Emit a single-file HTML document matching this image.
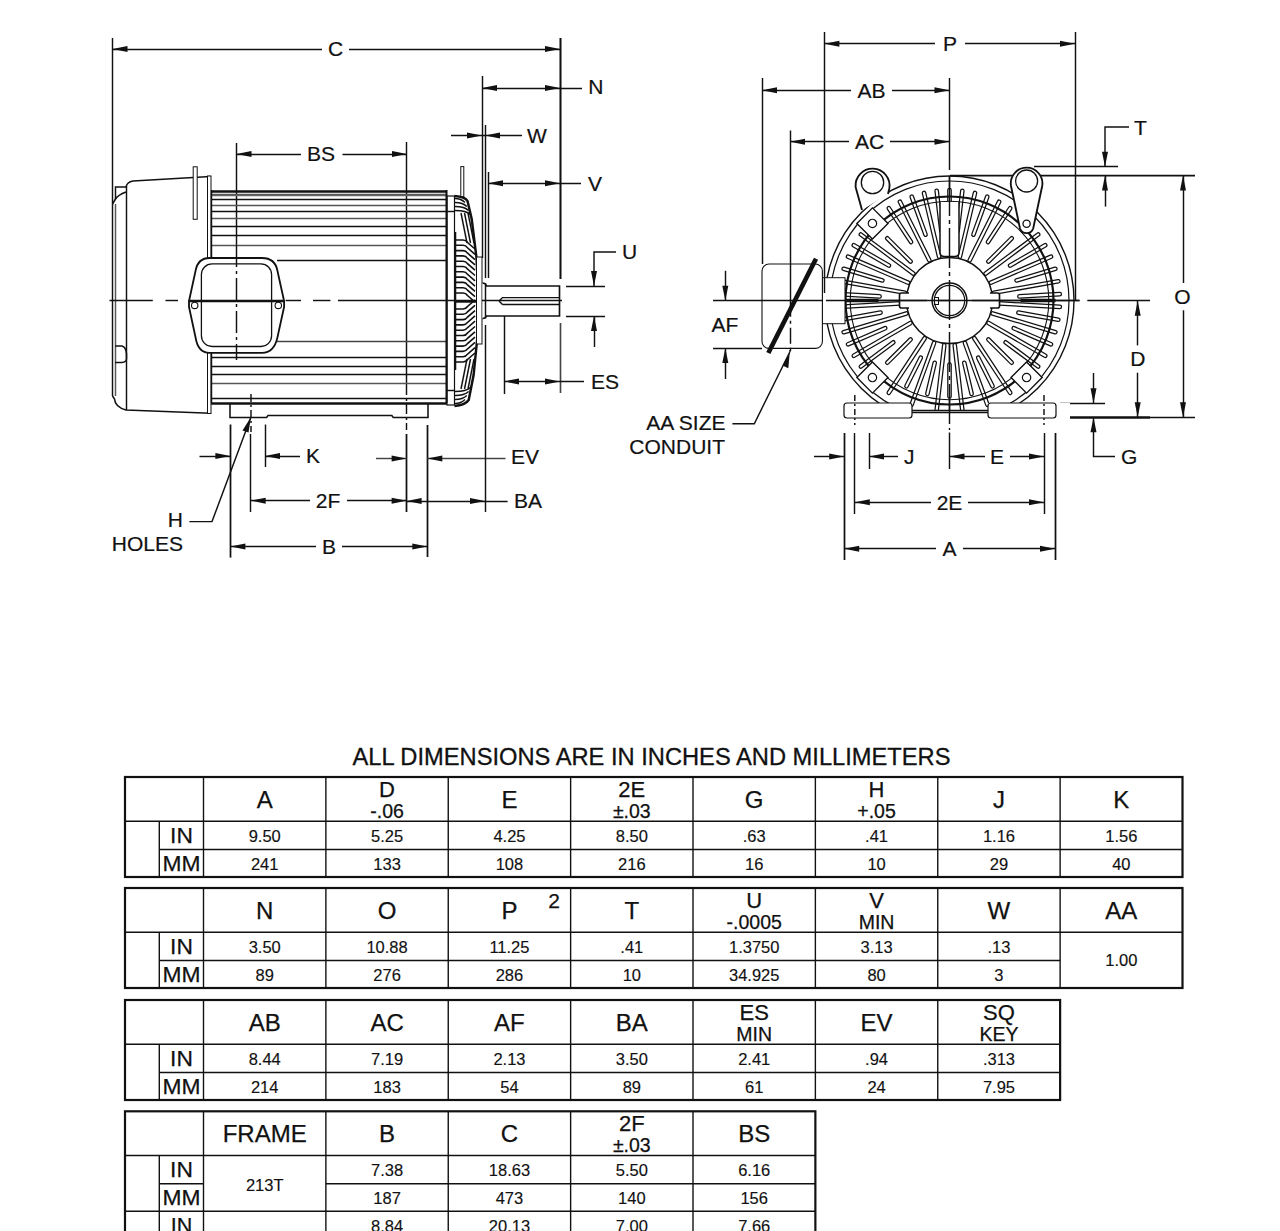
<!DOCTYPE html>
<html><head><meta charset="utf-8"><style>
html,body{margin:0;padding:0;background:#fff;}
svg{position:absolute;left:0;top:0;}
text{font-family:"Liberation Sans",sans-serif;}
</style></head><body>
<svg width="1280" height="1231" viewBox="0 0 1280 1231">
<rect width="1280" height="1231" fill="#fff"/>
<line x1="112.5" y1="38" x2="112.5" y2="204" stroke="#111" stroke-width="1.45" />
<line x1="560.5" y1="38" x2="560.5" y2="279" stroke="#111" stroke-width="2.05" />
<line x1="560.5" y1="323" x2="560.5" y2="393" stroke="#444" stroke-width="1.65" />
<line x1="112.5" y1="49.5" x2="322" y2="49.5" stroke="#111" stroke-width="1.45" />
<line x1="349" y1="49.5" x2="560" y2="49.5" stroke="#111" stroke-width="1.45" />
<polygon points="112.50,49.00 127.50,46.00 127.50,52.00" fill="#111"/>
<polygon points="560.00,49.00 545.00,46.00 545.00,52.00" fill="#111"/>
<text x="335.6" y="55.80" font-size="21.00" text-anchor="middle" fill="#111" stroke="#111" stroke-width="0.2" >C</text>
<line x1="236.5" y1="143" x2="236.5" y2="245" stroke="#111" stroke-width="1.45" />
<line x1="406.5" y1="142" x2="406.5" y2="385" stroke="#111" stroke-width="1.45" />
<line x1="236.5" y1="154.5" x2="301" y2="154.5" stroke="#111" stroke-width="1.45" />
<line x1="342.5" y1="154.5" x2="407" y2="154.5" stroke="#111" stroke-width="1.45" />
<polygon points="236.50,154.00 251.50,151.00 251.50,157.00" fill="#111"/>
<polygon points="407.00,154.00 392.00,151.00 392.00,157.00" fill="#111"/>
<text x="321" y="161.30" font-size="21.00" text-anchor="middle" fill="#111" stroke="#111" stroke-width="0.2" >BS</text>
<line x1="482.5" y1="76" x2="482.5" y2="258" stroke="#111" stroke-width="1.45" />
<line x1="482" y1="88.5" x2="582" y2="88.5" stroke="#111" stroke-width="1.45" />
<polygon points="482.00,88.00 497.00,85.00 497.00,91.00" fill="#111"/>
<polygon points="560.00,88.00 545.00,85.00 545.00,91.00" fill="#111"/>
<text x="588.3" y="93.90" font-size="21.00" text-anchor="start" fill="#111" stroke="#111" stroke-width="0.2" >N</text>
<line x1="485.5" y1="125" x2="485.5" y2="278" stroke="#111" stroke-width="1.45" />
<line x1="451" y1="135.5" x2="522" y2="135.5" stroke="#111" stroke-width="1.45" />
<polygon points="482.00,135.60 467.00,132.60 467.00,138.60" fill="#111"/>
<polygon points="485.00,135.60 500.00,132.60 500.00,138.60" fill="#111"/>
<text x="527" y="142.90" font-size="21.00" text-anchor="start" fill="#111" stroke="#111" stroke-width="0.2" >W</text>
<line x1="488.5" y1="172" x2="488.5" y2="278" stroke="#111" stroke-width="1.45" />
<line x1="488" y1="183.5" x2="581" y2="183.5" stroke="#111" stroke-width="1.45" />
<polygon points="488.00,183.30 503.00,180.30 503.00,186.30" fill="#111"/>
<polygon points="560.00,183.30 545.00,180.30 545.00,186.30" fill="#111"/>
<text x="588" y="190.60" font-size="21.00" text-anchor="start" fill="#111" stroke="#111" stroke-width="0.2" >V</text>
<path d="M616,252 H594 V286" stroke="#111" stroke-width="1.45" fill="none" />
<polygon points="594.00,286.00 591.00,271.00 597.00,271.00" fill="#111"/>
<line x1="566" y1="286.5" x2="605" y2="286.5" stroke="#111" stroke-width="1.45" />
<line x1="566" y1="316.5" x2="605" y2="316.5" stroke="#111" stroke-width="1.45" />
<line x1="594.5" y1="316" x2="594.5" y2="347" stroke="#111" stroke-width="1.45" />
<polygon points="594.00,316.00 591.00,331.00 597.00,331.00" fill="#111"/>
<text x="622" y="259.30" font-size="21.00" text-anchor="start" fill="#111" stroke="#111" stroke-width="0.2" >U</text>
<line x1="504.5" y1="313" x2="504.5" y2="394" stroke="#111" stroke-width="1.45" />
<line x1="504" y1="381.5" x2="584" y2="381.5" stroke="#111" stroke-width="1.45" />
<polygon points="504.00,381.40 519.00,378.40 519.00,384.40" fill="#111"/>
<polygon points="560.00,381.40 545.00,378.40 545.00,384.40" fill="#111"/>
<text x="591" y="388.70" font-size="21.00" text-anchor="start" fill="#111" stroke="#111" stroke-width="0.2" >ES</text>
<line x1="406.5" y1="434" x2="406.5" y2="512" stroke="#111" stroke-width="1.75" />
<line x1="427.5" y1="425" x2="427.5" y2="557" stroke="#111" stroke-width="1.75" />
<line x1="376" y1="458.5" x2="406.6" y2="458.5" stroke="#444" stroke-width="1.45" />
<polygon points="406.60,458.60 391.60,455.60 391.60,461.60" fill="#111"/>
<line x1="427.3" y1="458.5" x2="505.5" y2="458.5" stroke="#444" stroke-width="1.45" />
<polygon points="427.30,458.60 442.30,455.60 442.30,461.60" fill="#111"/>
<text x="511" y="463.50" font-size="21.00" text-anchor="start" fill="#111" stroke="#111" stroke-width="0.2" >EV</text>
<line x1="485.5" y1="325" x2="485.5" y2="512" stroke="#111" stroke-width="1.45" />
<line x1="406.6" y1="501.5" x2="507.6" y2="501.5" stroke="#111" stroke-width="1.45" />
<polygon points="406.60,501.00 421.60,498.00 421.60,504.00" fill="#111"/>
<polygon points="485.00,501.00 470.00,498.00 470.00,504.00" fill="#111"/>
<text x="514" y="508.30" font-size="21.00" text-anchor="start" fill="#111" stroke="#111" stroke-width="0.2" >BA</text>
<line x1="230.5" y1="424.5" x2="230.5" y2="557.6" stroke="#111" stroke-width="1.75" />
<line x1="265.5" y1="424.5" x2="265.5" y2="467" stroke="#111" stroke-width="1.45" />
<line x1="199.5" y1="456.5" x2="230.4" y2="456.5" stroke="#111" stroke-width="1.45" />
<polygon points="230.40,456.00 215.40,453.00 215.40,459.00" fill="#111"/>
<line x1="265" y1="456.5" x2="300" y2="456.5" stroke="#111" stroke-width="1.45" />
<polygon points="265.00,456.00 280.00,453.00 280.00,459.00" fill="#111"/>
<text x="306" y="463.30" font-size="21.00" text-anchor="start" fill="#111" stroke="#111" stroke-width="0.2" >K</text>
<line x1="250.5" y1="434" x2="250.5" y2="512" stroke="#111" stroke-width="1.45" />
<line x1="250.7" y1="500.5" x2="310" y2="500.5" stroke="#111" stroke-width="1.45" />
<line x1="347" y1="500.5" x2="406.6" y2="500.5" stroke="#111" stroke-width="1.45" />
<polygon points="250.70,500.70 265.70,497.70 265.70,503.70" fill="#111"/>
<polygon points="406.60,500.70 391.60,497.70 391.60,503.70" fill="#111"/>
<text x="328" y="508.00" font-size="21.00" text-anchor="middle" fill="#111" stroke="#111" stroke-width="0.2" >2F</text>
<line x1="230.4" y1="546.5" x2="316" y2="546.5" stroke="#111" stroke-width="1.45" />
<line x1="342" y1="546.5" x2="427.3" y2="546.5" stroke="#111" stroke-width="1.45" />
<polygon points="230.40,546.40 245.40,543.40 245.40,549.40" fill="#111"/>
<polygon points="427.30,546.40 412.30,543.40 412.30,549.40" fill="#111"/>
<text x="329" y="553.70" font-size="21.00" text-anchor="middle" fill="#111" stroke="#111" stroke-width="0.2" >B</text>
<path d="M189.4,521.6 H212 L251,417" stroke="#111" stroke-width="1.45" fill="none" />
<polygon points="251,417 242.5,430.5 248.5,432.5" fill="#111"/>
<text x="183" y="527.30" font-size="21.00" text-anchor="end" fill="#111" stroke="#111" stroke-width="0.2" >H</text>
<text x="183" y="550.80" font-size="21.00" text-anchor="end" fill="#111" stroke="#111" stroke-width="0.2" >HOLES</text>
<line x1="112.5" y1="204" x2="112.5" y2="396" stroke="#111" stroke-width="1.45" />
<line x1="115.5" y1="204" x2="115.5" y2="396" stroke="#555" stroke-width="1.45" />
<path d="M112.5,396 L114.5,399 Q115,407 126,410 L210.5,413.2" stroke="#111" stroke-width="1.55" fill="none" />
<path d="M112.5,204 L115.5,199 Q118,195 126,192" stroke="#111" stroke-width="1.55" fill="none" />
<path d="M115.5,199 V187 H126" stroke="#111" stroke-width="1.45" fill="none" />
<path d="M126,187 Q127,182 133,181 L210.5,176.5" stroke="#111" stroke-width="1.55" fill="none" />
<line x1="126.5" y1="186" x2="126.5" y2="410" stroke="#111" stroke-width="1.45" />
<path d="M115,346 H122 Q126,347 126.5,354 V359 Q126,362.4 122,362.4 H115" stroke="#111" stroke-width="1.55" fill="none" />
<rect x="193.2" y="166.8" width="4" height="52.5" rx="0" stroke="#111" stroke-width="1.0" fill="#fff"/>
<rect x="207.5" y="176" width="3.5" height="237.5" rx="0" stroke="#111" stroke-width="1.0" fill="#fff"/>
<line x1="211" y1="191.5" x2="447" y2="191.5" stroke="#111" stroke-width="2.45" />
<line x1="211" y1="194.5" x2="447" y2="194.5" stroke="#555" stroke-width="1.45" />
<line x1="211" y1="195.5" x2="447" y2="195.5" stroke="#666" stroke-width="1.45" />
<line x1="211" y1="199.5" x2="447" y2="199.5" stroke="#111" stroke-width="1.45" />
<line x1="211" y1="205.5" x2="447" y2="205.5" stroke="#555" stroke-width="1.45" />
<line x1="211" y1="211.5" x2="447" y2="211.5" stroke="#111" stroke-width="1.45" />
<line x1="211" y1="218.5" x2="447" y2="218.5" stroke="#555" stroke-width="1.45" />
<line x1="211" y1="226.5" x2="447" y2="226.5" stroke="#111" stroke-width="1.45" />
<line x1="211" y1="235.5" x2="447" y2="235.5" stroke="#111" stroke-width="1.45" />
<line x1="211" y1="245.5" x2="447" y2="245.5" stroke="#555" stroke-width="1.45" />
<line x1="277" y1="260.5" x2="447" y2="260.5" stroke="#111" stroke-width="1.45" />
<line x1="277" y1="341.5" x2="447" y2="341.5" stroke="#444" stroke-width="1.45" />
<line x1="211" y1="357.5" x2="447" y2="357.5" stroke="#111" stroke-width="1.45" />
<line x1="211" y1="366.5" x2="447" y2="366.5" stroke="#111" stroke-width="1.45" />
<line x1="211" y1="374.5" x2="447" y2="374.5" stroke="#111" stroke-width="1.45" />
<line x1="211" y1="383.5" x2="447" y2="383.5" stroke="#555" stroke-width="1.45" />
<line x1="211" y1="398.5" x2="447" y2="398.5" stroke="#111" stroke-width="1.45" />
<line x1="211" y1="403.5" x2="447" y2="403.5" stroke="#111" stroke-width="2.45" />
<line x1="211.5" y1="190" x2="211.5" y2="403" stroke="#111" stroke-width="1.45" />
<path d="M209.5,258 H262 Q275,258 277.4,270.6 L284.1,301 V307 L277.4,337.6 Q274,352.8 262,352.8 H209.5 Q198,352.8 195.6,337.6 L189,307 V301 L195.6,270.6 Q198,258 209.5,258 Z" stroke="#111" stroke-width="1.85" fill="#fff" />
<rect x="201.4" y="263.9" width="70.2" height="82.6" rx="10.7" stroke="#111" stroke-width="1.3" fill="none"/>
<circle cx="194.7" cy="305.4" r="3.2" stroke="#111" stroke-width="1.1" fill="none"/>
<circle cx="278.3" cy="305.4" r="3.2" stroke="#111" stroke-width="1.1" fill="none"/>
<line x1="189" y1="301.5" x2="284" y2="301.5" stroke="#111" stroke-width="1.65" />
<path d="M236.5,245 V360" stroke="#111" stroke-width="1.45" fill="none" stroke-dasharray="22,4,3,4"/>
<line x1="109.5" y1="300.5" x2="152.8" y2="300.5" stroke="#111" stroke-width="1.45" />
<line x1="165.5" y1="300.5" x2="178" y2="300.5" stroke="#111" stroke-width="1.45" />
<line x1="188.7" y1="300.5" x2="283.7" y2="300.5" stroke="#111" stroke-width="1.45" />
<line x1="285.6" y1="300.5" x2="301" y2="300.5" stroke="#111" stroke-width="1.45" />
<line x1="313" y1="300.5" x2="330.4" y2="300.5" stroke="#111" stroke-width="1.45" />
<line x1="338" y1="300.5" x2="560" y2="300.5" stroke="#111" stroke-width="1.45" />
<path d="M230,403 V417.5 H266.6 L268,415.5 H391.8 L393.3,417.5 H428 V403" stroke="#111" stroke-width="1.55" fill="none" />
<path d="M251,394 V432" stroke="#111" stroke-width="1.45" fill="none" stroke-dasharray="8,3,2,3"/>
<path d="M406.5,385 V430" stroke="#111" stroke-width="1.45" fill="none" stroke-dasharray="10,3,3,3"/>
<rect x="447" y="196" width="7.5" height="209" rx="0" stroke="#111" stroke-width="1.2" fill="none"/>
<line x1="446.5" y1="190" x2="446.5" y2="403" stroke="#111" stroke-width="2.05" />
<line x1="447" y1="211.5" x2="454.5" y2="211.5" stroke="#111" stroke-width="1.45" />
<line x1="447" y1="390.5" x2="454.5" y2="390.5" stroke="#111" stroke-width="1.45" />
<line x1="455.5" y1="232" x2="455.5" y2="370" stroke="#111" stroke-width="1.55" />
<path d="M455.5,240.0 H463 Q466,240.0 467.5,242.5 L475,249.0" stroke="#111" stroke-width="1.60" fill="none" />
<path d="M455.5,245.3 H463 Q466,245.3 467.5,247.8 L475,254.3" stroke="#111" stroke-width="1.60" fill="none" />
<path d="M455.5,250.6 H463 Q466,250.6 467.5,253.1 L475,259.6" stroke="#111" stroke-width="1.60" fill="none" />
<path d="M455.5,255.9 H463 Q466,255.9 467.5,258.4 L475,264.9" stroke="#111" stroke-width="1.60" fill="none" />
<path d="M455.5,261.2 H463 Q466,261.2 467.5,263.7 L475,270.2" stroke="#111" stroke-width="1.60" fill="none" />
<path d="M455.5,266.5 H463 Q466,266.5 467.5,269.0 L475,275.5" stroke="#111" stroke-width="1.60" fill="none" />
<path d="M455.5,271.8 H463 Q466,271.8 467.5,274.3 L475,280.8" stroke="#111" stroke-width="1.60" fill="none" />
<path d="M455.5,277.1 H463 Q466,277.1 467.5,279.6 L475,286.1" stroke="#111" stroke-width="1.60" fill="none" />
<path d="M455.5,282.4 H463 Q466,282.4 467.5,284.9 L475,291.4" stroke="#111" stroke-width="1.60" fill="none" />
<path d="M455.5,287.7 H463 Q466,287.7 467.5,290.2 L475,296.7" stroke="#111" stroke-width="1.60" fill="none" />
<path d="M455.5,293.0 H463 Q466,293.0 467.5,295.5 L475,302.0" stroke="#111" stroke-width="1.60" fill="none" />
<path d="M455.5,362.0 H463 Q466,362.0 467.5,359.5 L475,353.0" stroke="#111" stroke-width="1.60" fill="none" />
<path d="M455.5,356.7 H463 Q466,356.7 467.5,354.2 L475,347.7" stroke="#111" stroke-width="1.60" fill="none" />
<path d="M455.5,351.4 H463 Q466,351.4 467.5,348.9 L475,342.4" stroke="#111" stroke-width="1.60" fill="none" />
<path d="M455.5,346.1 H463 Q466,346.1 467.5,343.6 L475,337.1" stroke="#111" stroke-width="1.60" fill="none" />
<path d="M455.5,340.8 H463 Q466,340.8 467.5,338.3 L475,331.8" stroke="#111" stroke-width="1.60" fill="none" />
<path d="M455.5,335.5 H463 Q466,335.5 467.5,333.0 L475,326.5" stroke="#111" stroke-width="1.60" fill="none" />
<path d="M455.5,330.2 H463 Q466,330.2 467.5,327.7 L475,321.2" stroke="#111" stroke-width="1.60" fill="none" />
<path d="M455.5,324.9 H463 Q466,324.9 467.5,322.4 L475,315.9" stroke="#111" stroke-width="1.60" fill="none" />
<path d="M455.5,319.6 H463 Q466,319.6 467.5,317.1 L475,310.6" stroke="#111" stroke-width="1.60" fill="none" />
<path d="M455.5,314.3 H463 Q466,314.3 467.5,311.8 L475,305.3" stroke="#111" stroke-width="1.60" fill="none" />
<path d="M455.5,309.0 H463 Q466,309.0 467.5,306.5 L475,300.0" stroke="#111" stroke-width="1.60" fill="none" />
<line x1="455.5" y1="301.5" x2="477" y2="301.5" stroke="#111" stroke-width="2.45" />
<path d="M455,198.5 C460,198.5 462.0,199.5 465.0,202.5" stroke="#111" stroke-width="1.45" fill="none" />
<path d="M455,403.5 C460,403.5 462.0,402.5 465.0,399.5" stroke="#111" stroke-width="1.45" fill="none" />
<path d="M455,202.5 C460,202.5 463.8,203.5 466.8,206.5" stroke="#111" stroke-width="1.45" fill="none" />
<path d="M455,399.5 C460,399.5 463.8,398.5 466.8,395.5" stroke="#111" stroke-width="1.45" fill="none" />
<path d="M455,206.5 C460,206.5 465.6,207.5 468.6,210.5" stroke="#111" stroke-width="1.45" fill="none" />
<path d="M455,395.5 C460,395.5 465.6,394.5 468.6,391.5" stroke="#111" stroke-width="1.45" fill="none" />
<path d="M455,210.5 C460,210.5 467.4,211.5 470.4,214.5" stroke="#111" stroke-width="1.45" fill="none" />
<path d="M455,391.5 C460,391.5 467.4,390.5 470.4,387.5" stroke="#111" stroke-width="1.45" fill="none" />
<path d="M461.0,213 L467.0,243" stroke="#111" stroke-width="1.45" fill="none" />
<path d="M461.0,389 L467.0,359" stroke="#111" stroke-width="1.45" fill="none" />
<path d="M464.5,213 L470.5,243" stroke="#111" stroke-width="1.45" fill="none" />
<path d="M464.5,389 L470.5,359" stroke="#111" stroke-width="1.45" fill="none" />
<path d="M468.0,213 L474.0,243" stroke="#111" stroke-width="1.45" fill="none" />
<path d="M468.0,389 L474.0,359" stroke="#111" stroke-width="1.45" fill="none" />
<path d="M454.5,196 C462,196.5 466,198 467.5,201 L471.7,219 L476.5,258 L478.5,297 L477.5,336 L473.6,375 L468.7,400 C466,404 462,405.5 454.5,406" stroke="#111" stroke-width="2.45" fill="none" />
<rect x="476.5" y="257" width="5.5" height="87" rx="0" stroke="#111" stroke-width="1.0" fill="#fff"/>
<rect x="460.8" y="166.6" width="3" height="30" rx="0" stroke="#111" stroke-width="1.0" fill="#fff"/>
<path d="M482.5,283 Q485.5,283 486.5,286 H559.5 V316 H486.5 Q485.5,318.5 482.5,318.5" stroke="#111" stroke-width="1.65" fill="#fff" />
<line x1="485.5" y1="283" x2="485.5" y2="318.5" stroke="#111" stroke-width="1.45" />
<path d="M499,301 L502.5,297.6 H559.5 M502.5,304.5 H559.5 M499,301 L502.5,304.5" stroke="#111" stroke-width="1.45" fill="none" />
<line x1="482" y1="300.5" x2="562" y2="300.5" stroke="#111" stroke-width="1.45" />
<line x1="824.5" y1="32" x2="824.5" y2="293" stroke="#111" stroke-width="1.45" />
<line x1="1075.5" y1="32" x2="1075.5" y2="300" stroke="#111" stroke-width="1.45" />
<line x1="824.4" y1="43.5" x2="935" y2="43.5" stroke="#111" stroke-width="1.45" />
<line x1="965" y1="43.5" x2="1075" y2="43.5" stroke="#111" stroke-width="1.45" />
<polygon points="824.40,43.80 839.40,40.80 839.40,46.80" fill="#111"/>
<polygon points="1075.00,43.80 1060.00,40.80 1060.00,46.80" fill="#111"/>
<text x="950" y="51.30" font-size="21.00" text-anchor="middle" fill="#111" stroke="#111" stroke-width="0.2" >P</text>
<line x1="762.5" y1="78" x2="762.5" y2="264" stroke="#111" stroke-width="1.45" />
<line x1="762" y1="90.5" x2="851" y2="90.5" stroke="#111" stroke-width="1.45" />
<line x1="892" y1="90.5" x2="949.5" y2="90.5" stroke="#111" stroke-width="1.45" />
<polygon points="762.00,90.20 777.00,87.20 777.00,93.20" fill="#111"/>
<polygon points="949.50,90.20 934.50,87.20 934.50,93.20" fill="#111"/>
<text x="871.5" y="97.50" font-size="21.00" text-anchor="middle" fill="#111" stroke="#111" stroke-width="0.2" >AB</text>
<line x1="790.5" y1="130.5" x2="790.5" y2="264" stroke="#111" stroke-width="1.45" />
<path d="M790,264 V352" stroke="#111" stroke-width="1.45" fill="none" stroke-dasharray="20,4,3,4"/>
<line x1="790" y1="141.5" x2="849" y2="141.5" stroke="#111" stroke-width="1.45" />
<line x1="890" y1="141.5" x2="949.5" y2="141.5" stroke="#111" stroke-width="1.45" />
<polygon points="790.00,141.70 805.00,138.70 805.00,144.70" fill="#111"/>
<polygon points="949.50,141.70 934.50,138.70 934.50,144.70" fill="#111"/>
<text x="869.5" y="149.00" font-size="21.00" text-anchor="middle" fill="#111" stroke="#111" stroke-width="0.2" >AC</text>
<path d="M949.5,78 V170" stroke="#111" stroke-width="1.45" fill="none" />
<path d="M949.5,176 V430" stroke="#111" stroke-width="1.45" fill="none" stroke-dasharray="30,4,4,4"/>
<line x1="1034" y1="166.5" x2="1118" y2="166.5" stroke="#111" stroke-width="1.65" />
<line x1="950" y1="175.5" x2="1195" y2="175.5" stroke="#111" stroke-width="1.75" />
<path d="M1129,127 H1105 V166.7" stroke="#111" stroke-width="1.45" fill="none" />
<polygon points="1105.00,166.70 1102.00,151.70 1108.00,151.70" fill="#111"/>
<line x1="1105.5" y1="175.6" x2="1105.5" y2="206.6" stroke="#111" stroke-width="1.45" />
<polygon points="1105.00,175.60 1102.00,190.60 1108.00,190.60" fill="#111"/>
<text x="1134" y="134.80" font-size="21.00" text-anchor="start" fill="#111" stroke="#111" stroke-width="0.2" >T</text>
<line x1="1183.5" y1="175.6" x2="1183.5" y2="283" stroke="#111" stroke-width="1.45" />
<line x1="1183.5" y1="310.3" x2="1183.5" y2="417.3" stroke="#111" stroke-width="1.45" />
<polygon points="1183.00,175.60 1180.00,190.60 1186.00,190.60" fill="#111"/>
<polygon points="1183.00,417.30 1180.00,402.30 1186.00,402.30" fill="#111"/>
<text x="1182.5" y="303.80" font-size="21.00" text-anchor="middle" fill="#111" stroke="#111" stroke-width="0.2" >O</text>
<line x1="1137.5" y1="300.8" x2="1137.5" y2="345.4" stroke="#111" stroke-width="1.45" />
<line x1="1137.5" y1="372.7" x2="1137.5" y2="417.3" stroke="#111" stroke-width="1.45" />
<polygon points="1137.70,300.80 1134.70,315.80 1140.70,315.80" fill="#111"/>
<polygon points="1137.70,417.30 1134.70,402.30 1140.70,402.30" fill="#111"/>
<text x="1137.8" y="366.30" font-size="21.00" text-anchor="middle" fill="#111" stroke="#111" stroke-width="0.2" >D</text>
<line x1="713" y1="300.5" x2="1079.5" y2="300.5" stroke="#111" stroke-width="1.45" />
<line x1="1087.3" y1="300.5" x2="1150" y2="300.5" stroke="#111" stroke-width="1.45" />
<line x1="1060" y1="403.5" x2="1105" y2="403.5" stroke="#111" stroke-width="1.45" />
<line x1="1063" y1="417.5" x2="1150" y2="417.5" stroke="#111" stroke-width="2.45" />
<line x1="1150" y1="417.5" x2="1195" y2="417.5" stroke="#111" stroke-width="1.45" />
<line x1="1093.5" y1="373" x2="1093.5" y2="403.2" stroke="#111" stroke-width="1.45" />
<polygon points="1093.50,403.20 1090.50,388.20 1096.50,388.20" fill="#111"/>
<path d="M1093.5,417.3 V456.5 H1115" stroke="#111" stroke-width="1.45" fill="none" />
<polygon points="1093.50,417.30 1090.50,432.30 1096.50,432.30" fill="#111"/>
<text x="1121" y="464.30" font-size="21.00" text-anchor="start" fill="#111" stroke="#111" stroke-width="0.2" >G</text>
<line x1="844.5" y1="425" x2="844.5" y2="560" stroke="#111" stroke-width="1.75" />
<line x1="1055.5" y1="425" x2="1055.5" y2="560" stroke="#111" stroke-width="1.75" />
<line x1="844.2" y1="548.5" x2="936" y2="548.5" stroke="#111" stroke-width="1.45" />
<line x1="963" y1="548.5" x2="1055" y2="548.5" stroke="#111" stroke-width="1.45" />
<polygon points="844.20,548.70 859.20,545.70 859.20,551.70" fill="#111"/>
<polygon points="1055.00,548.70 1040.00,545.70 1040.00,551.70" fill="#111"/>
<text x="949.5" y="556.00" font-size="21.00" text-anchor="middle" fill="#111" stroke="#111" stroke-width="0.2" >A</text>
<line x1="854.5" y1="433" x2="854.5" y2="514" stroke="#111" stroke-width="1.45" />
<line x1="1044.5" y1="433" x2="1044.5" y2="514" stroke="#111" stroke-width="1.45" />
<line x1="854.8" y1="502.5" x2="931" y2="502.5" stroke="#111" stroke-width="1.45" />
<line x1="968" y1="502.5" x2="1044" y2="502.5" stroke="#111" stroke-width="1.45" />
<polygon points="854.80,502.30 869.80,499.30 869.80,505.30" fill="#111"/>
<polygon points="1044.00,502.30 1029.00,499.30 1029.00,505.30" fill="#111"/>
<text x="949.5" y="509.60" font-size="21.00" text-anchor="middle" fill="#111" stroke="#111" stroke-width="0.2" >2E</text>
<line x1="869.5" y1="425" x2="869.5" y2="469" stroke="#111" stroke-width="1.45" />
<line x1="814" y1="456.5" x2="844.2" y2="456.5" stroke="#111" stroke-width="1.45" />
<polygon points="844.20,456.50 829.20,453.50 829.20,459.50" fill="#111"/>
<line x1="869" y1="456.5" x2="898" y2="456.5" stroke="#111" stroke-width="1.45" />
<polygon points="869.00,456.50 884.00,453.50 884.00,459.50" fill="#111"/>
<text x="904" y="463.80" font-size="21.00" text-anchor="start" fill="#111" stroke="#111" stroke-width="0.2" >J</text>
<line x1="949.5" y1="430" x2="949.5" y2="469" stroke="#111" stroke-width="1.45" />
<line x1="949.5" y1="456.5" x2="985" y2="456.5" stroke="#111" stroke-width="1.45" />
<line x1="1010" y1="456.5" x2="1044" y2="456.5" stroke="#111" stroke-width="1.45" />
<polygon points="949.50,456.50 964.50,453.50 964.50,459.50" fill="#111"/>
<polygon points="1044.00,456.50 1029.00,453.50 1029.00,459.50" fill="#111"/>
<text x="997" y="463.80" font-size="21.00" text-anchor="middle" fill="#111" stroke="#111" stroke-width="0.2" >E</text>
<line x1="713" y1="348.5" x2="762" y2="348.5" stroke="#111" stroke-width="1.45" />
<line x1="725.5" y1="270.8" x2="725.5" y2="300.7" stroke="#111" stroke-width="1.45" />
<polygon points="725.30,300.70 722.30,285.70 728.30,285.70" fill="#111"/>
<line x1="725.5" y1="348" x2="725.5" y2="379" stroke="#111" stroke-width="1.45" />
<polygon points="725.30,348.00 722.30,363.00 728.30,363.00" fill="#111"/>
<text x="725" y="332.30" font-size="21.00" text-anchor="middle" fill="#111" stroke="#111" stroke-width="0.2" >AF</text>
<path d="M732.4,423.7 H754.3 L789.8,352" stroke="#111" stroke-width="1.45" fill="none" />
<polygon points="789.8,352 782.5,365.5 788.3,368.2" fill="#111"/>
<text x="725.5" y="430.30" font-size="21.00" text-anchor="end" fill="#111" stroke="#111" stroke-width="0.2" >AA SIZE</text>
<text x="725" y="453.80" font-size="21.00" text-anchor="end" fill="#111" stroke="#111" stroke-width="0.2" >CONDUIT</text>
<circle cx="949.5" cy="300.5" r="124.5" stroke="#111" stroke-width="1.4" fill="none"/>
<circle cx="949.5" cy="300.5" r="119.5" stroke="#111" stroke-width="1.2" fill="none"/>
<line x1="949.50" y1="255.50" x2="949.50" y2="190.00" stroke="#111" stroke-width="4.65" stroke-linecap="round"/>
<line x1="949.50" y1="255.50" x2="949.50" y2="190.00" stroke="#fff" stroke-width="2.15" stroke-linecap="round"/>
<line x1="957.63" y1="230.97" x2="962.33" y2="190.75" stroke="#111" stroke-width="4.65" stroke-linecap="round"/>
<line x1="957.63" y1="230.97" x2="962.33" y2="190.75" stroke="#fff" stroke-width="2.15" stroke-linecap="round"/>
<line x1="959.88" y1="256.71" x2="974.98" y2="192.98" stroke="#111" stroke-width="4.65" stroke-linecap="round"/>
<line x1="959.88" y1="256.71" x2="974.98" y2="192.98" stroke="#fff" stroke-width="2.15" stroke-linecap="round"/>
<line x1="973.44" y1="234.72" x2="987.29" y2="196.66" stroke="#111" stroke-width="4.65" stroke-linecap="round"/>
<line x1="973.44" y1="234.72" x2="987.29" y2="196.66" stroke="#fff" stroke-width="2.15" stroke-linecap="round"/>
<line x1="969.70" y1="260.29" x2="999.09" y2="201.75" stroke="#111" stroke-width="4.65" stroke-linecap="round"/>
<line x1="969.70" y1="260.29" x2="999.09" y2="201.75" stroke="#fff" stroke-width="2.15" stroke-linecap="round"/>
<line x1="987.97" y1="242.02" x2="1010.22" y2="208.18" stroke="#111" stroke-width="4.65" stroke-linecap="round"/>
<line x1="987.97" y1="242.02" x2="1010.22" y2="208.18" stroke="#fff" stroke-width="2.15" stroke-linecap="round"/>
<line x1="985.60" y1="273.63" x2="1038.13" y2="234.51" stroke="#111" stroke-width="4.65" stroke-linecap="round"/>
<line x1="985.60" y1="273.63" x2="1038.13" y2="234.51" stroke="#fff" stroke-width="2.15" stroke-linecap="round"/>
<line x1="1010.12" y1="265.50" x2="1045.20" y2="245.25" stroke="#111" stroke-width="4.65" stroke-linecap="round"/>
<line x1="1010.12" y1="265.50" x2="1045.20" y2="245.25" stroke="#fff" stroke-width="2.15" stroke-linecap="round"/>
<line x1="990.82" y1="282.68" x2="1050.96" y2="256.73" stroke="#111" stroke-width="4.65" stroke-linecap="round"/>
<line x1="990.82" y1="282.68" x2="1050.96" y2="256.73" stroke="#fff" stroke-width="2.15" stroke-linecap="round"/>
<line x1="1016.56" y1="280.42" x2="1055.36" y2="268.81" stroke="#111" stroke-width="4.65" stroke-linecap="round"/>
<line x1="1016.56" y1="280.42" x2="1055.36" y2="268.81" stroke="#fff" stroke-width="2.15" stroke-linecap="round"/>
<line x1="993.82" y1="292.69" x2="1058.32" y2="281.31" stroke="#111" stroke-width="4.65" stroke-linecap="round"/>
<line x1="993.82" y1="292.69" x2="1058.32" y2="281.31" stroke="#fff" stroke-width="2.15" stroke-linecap="round"/>
<line x1="1019.38" y1="296.43" x2="1059.81" y2="294.07" stroke="#111" stroke-width="4.65" stroke-linecap="round"/>
<line x1="1019.38" y1="296.43" x2="1059.81" y2="294.07" stroke="#fff" stroke-width="2.15" stroke-linecap="round"/>
<line x1="994.42" y1="303.12" x2="1059.81" y2="306.93" stroke="#111" stroke-width="4.65" stroke-linecap="round"/>
<line x1="994.42" y1="303.12" x2="1059.81" y2="306.93" stroke="#fff" stroke-width="2.15" stroke-linecap="round"/>
<line x1="1018.44" y1="312.66" x2="1058.32" y2="319.69" stroke="#111" stroke-width="4.65" stroke-linecap="round"/>
<line x1="1018.44" y1="312.66" x2="1058.32" y2="319.69" stroke="#fff" stroke-width="2.15" stroke-linecap="round"/>
<line x1="992.61" y1="313.41" x2="1055.36" y2="332.19" stroke="#111" stroke-width="4.65" stroke-linecap="round"/>
<line x1="992.61" y1="313.41" x2="1055.36" y2="332.19" stroke="#fff" stroke-width="2.15" stroke-linecap="round"/>
<line x1="1013.78" y1="328.23" x2="1050.96" y2="344.27" stroke="#111" stroke-width="4.65" stroke-linecap="round"/>
<line x1="1013.78" y1="328.23" x2="1050.96" y2="344.27" stroke="#fff" stroke-width="2.15" stroke-linecap="round"/>
<line x1="988.47" y1="323.00" x2="1045.20" y2="355.75" stroke="#111" stroke-width="4.65" stroke-linecap="round"/>
<line x1="988.47" y1="323.00" x2="1045.20" y2="355.75" stroke="#fff" stroke-width="2.15" stroke-linecap="round"/>
<line x1="1005.65" y1="342.30" x2="1038.13" y2="366.49" stroke="#111" stroke-width="4.65" stroke-linecap="round"/>
<line x1="1005.65" y1="342.30" x2="1038.13" y2="366.49" stroke="#fff" stroke-width="2.15" stroke-linecap="round"/>
<line x1="974.23" y1="338.10" x2="1010.22" y2="392.82" stroke="#111" stroke-width="4.65" stroke-linecap="round"/>
<line x1="974.23" y1="338.10" x2="1010.22" y2="392.82" stroke="#fff" stroke-width="2.15" stroke-linecap="round"/>
<line x1="978.22" y1="357.69" x2="992.58" y2="386.29" stroke="#111" stroke-width="4.65" stroke-linecap="round"/>
<line x1="978.22" y1="357.69" x2="992.58" y2="386.29" stroke="#fff" stroke-width="2.15" stroke-linecap="round"/>
<line x1="964.89" y1="342.79" x2="987.46" y2="404.81" stroke="#111" stroke-width="4.65" stroke-linecap="round"/>
<line x1="964.89" y1="342.79" x2="987.46" y2="404.81" stroke="#fff" stroke-width="2.15" stroke-linecap="round"/>
<line x1="964.26" y1="362.77" x2="971.64" y2="393.91" stroke="#111" stroke-width="4.65" stroke-linecap="round"/>
<line x1="964.26" y1="362.77" x2="971.64" y2="393.91" stroke="#fff" stroke-width="2.15" stroke-linecap="round"/>
<line x1="954.72" y1="345.20" x2="962.39" y2="410.75" stroke="#111" stroke-width="4.65" stroke-linecap="round"/>
<line x1="954.72" y1="345.20" x2="962.39" y2="410.75" stroke="#fff" stroke-width="2.15" stroke-linecap="round"/>
<line x1="949.50" y1="364.50" x2="949.50" y2="396.50" stroke="#111" stroke-width="4.65" stroke-linecap="round"/>
<line x1="949.50" y1="364.50" x2="949.50" y2="396.50" stroke="#fff" stroke-width="2.15" stroke-linecap="round"/>
<line x1="944.28" y1="345.20" x2="936.61" y2="410.75" stroke="#111" stroke-width="4.65" stroke-linecap="round"/>
<line x1="944.28" y1="345.20" x2="936.61" y2="410.75" stroke="#fff" stroke-width="2.15" stroke-linecap="round"/>
<line x1="934.74" y1="362.77" x2="927.36" y2="393.91" stroke="#111" stroke-width="4.65" stroke-linecap="round"/>
<line x1="934.74" y1="362.77" x2="927.36" y2="393.91" stroke="#fff" stroke-width="2.15" stroke-linecap="round"/>
<line x1="934.11" y1="342.79" x2="911.54" y2="404.81" stroke="#111" stroke-width="4.65" stroke-linecap="round"/>
<line x1="934.11" y1="342.79" x2="911.54" y2="404.81" stroke="#fff" stroke-width="2.15" stroke-linecap="round"/>
<line x1="920.78" y1="357.69" x2="906.42" y2="386.29" stroke="#111" stroke-width="4.65" stroke-linecap="round"/>
<line x1="920.78" y1="357.69" x2="906.42" y2="386.29" stroke="#fff" stroke-width="2.15" stroke-linecap="round"/>
<line x1="924.77" y1="338.10" x2="888.78" y2="392.82" stroke="#111" stroke-width="4.65" stroke-linecap="round"/>
<line x1="924.77" y1="338.10" x2="888.78" y2="392.82" stroke="#fff" stroke-width="2.15" stroke-linecap="round"/>
<line x1="893.35" y1="342.30" x2="860.87" y2="366.49" stroke="#111" stroke-width="4.65" stroke-linecap="round"/>
<line x1="893.35" y1="342.30" x2="860.87" y2="366.49" stroke="#fff" stroke-width="2.15" stroke-linecap="round"/>
<line x1="910.53" y1="323.00" x2="853.80" y2="355.75" stroke="#111" stroke-width="4.65" stroke-linecap="round"/>
<line x1="910.53" y1="323.00" x2="853.80" y2="355.75" stroke="#fff" stroke-width="2.15" stroke-linecap="round"/>
<line x1="885.22" y1="328.23" x2="848.04" y2="344.27" stroke="#111" stroke-width="4.65" stroke-linecap="round"/>
<line x1="885.22" y1="328.23" x2="848.04" y2="344.27" stroke="#fff" stroke-width="2.15" stroke-linecap="round"/>
<line x1="906.39" y1="313.41" x2="843.64" y2="332.19" stroke="#111" stroke-width="4.65" stroke-linecap="round"/>
<line x1="906.39" y1="313.41" x2="843.64" y2="332.19" stroke="#fff" stroke-width="2.15" stroke-linecap="round"/>
<line x1="880.56" y1="312.66" x2="840.68" y2="319.69" stroke="#111" stroke-width="4.65" stroke-linecap="round"/>
<line x1="880.56" y1="312.66" x2="840.68" y2="319.69" stroke="#fff" stroke-width="2.15" stroke-linecap="round"/>
<line x1="904.58" y1="303.12" x2="839.19" y2="306.93" stroke="#111" stroke-width="4.65" stroke-linecap="round"/>
<line x1="904.58" y1="303.12" x2="839.19" y2="306.93" stroke="#fff" stroke-width="2.15" stroke-linecap="round"/>
<line x1="879.62" y1="296.43" x2="839.19" y2="294.07" stroke="#111" stroke-width="4.65" stroke-linecap="round"/>
<line x1="879.62" y1="296.43" x2="839.19" y2="294.07" stroke="#fff" stroke-width="2.15" stroke-linecap="round"/>
<line x1="905.18" y1="292.69" x2="840.68" y2="281.31" stroke="#111" stroke-width="4.65" stroke-linecap="round"/>
<line x1="905.18" y1="292.69" x2="840.68" y2="281.31" stroke="#fff" stroke-width="2.15" stroke-linecap="round"/>
<line x1="882.44" y1="280.42" x2="843.64" y2="268.81" stroke="#111" stroke-width="4.65" stroke-linecap="round"/>
<line x1="882.44" y1="280.42" x2="843.64" y2="268.81" stroke="#fff" stroke-width="2.15" stroke-linecap="round"/>
<line x1="908.18" y1="282.68" x2="848.04" y2="256.73" stroke="#111" stroke-width="4.65" stroke-linecap="round"/>
<line x1="908.18" y1="282.68" x2="848.04" y2="256.73" stroke="#fff" stroke-width="2.15" stroke-linecap="round"/>
<line x1="888.88" y1="265.50" x2="853.80" y2="245.25" stroke="#111" stroke-width="4.65" stroke-linecap="round"/>
<line x1="888.88" y1="265.50" x2="853.80" y2="245.25" stroke="#fff" stroke-width="2.15" stroke-linecap="round"/>
<line x1="913.40" y1="273.63" x2="860.87" y2="234.51" stroke="#111" stroke-width="4.65" stroke-linecap="round"/>
<line x1="913.40" y1="273.63" x2="860.87" y2="234.51" stroke="#fff" stroke-width="2.15" stroke-linecap="round"/>
<line x1="911.03" y1="242.02" x2="888.78" y2="208.18" stroke="#111" stroke-width="4.65" stroke-linecap="round"/>
<line x1="911.03" y1="242.02" x2="888.78" y2="208.18" stroke="#fff" stroke-width="2.15" stroke-linecap="round"/>
<line x1="929.30" y1="260.29" x2="899.91" y2="201.75" stroke="#111" stroke-width="4.65" stroke-linecap="round"/>
<line x1="929.30" y1="260.29" x2="899.91" y2="201.75" stroke="#fff" stroke-width="2.15" stroke-linecap="round"/>
<line x1="925.56" y1="234.72" x2="911.71" y2="196.66" stroke="#111" stroke-width="4.65" stroke-linecap="round"/>
<line x1="925.56" y1="234.72" x2="911.71" y2="196.66" stroke="#fff" stroke-width="2.15" stroke-linecap="round"/>
<line x1="939.12" y1="256.71" x2="924.02" y2="192.98" stroke="#111" stroke-width="4.65" stroke-linecap="round"/>
<line x1="939.12" y1="256.71" x2="924.02" y2="192.98" stroke="#fff" stroke-width="2.15" stroke-linecap="round"/>
<line x1="941.37" y1="230.97" x2="936.67" y2="190.75" stroke="#111" stroke-width="4.65" stroke-linecap="round"/>
<line x1="941.37" y1="230.97" x2="936.67" y2="190.75" stroke="#fff" stroke-width="2.15" stroke-linecap="round"/>
<line x1="988.39" y1="339.39" x2="1011.73" y2="362.73" stroke="#111" stroke-width="4.65" stroke-linecap="round"/>
<line x1="988.39" y1="339.39" x2="1011.73" y2="362.73" stroke="#fff" stroke-width="2.15" stroke-linecap="round"/>
<line x1="910.61" y1="339.39" x2="887.27" y2="362.73" stroke="#111" stroke-width="4.65" stroke-linecap="round"/>
<line x1="910.61" y1="339.39" x2="887.27" y2="362.73" stroke="#fff" stroke-width="2.15" stroke-linecap="round"/>
<line x1="910.61" y1="261.61" x2="887.27" y2="238.27" stroke="#111" stroke-width="4.65" stroke-linecap="round"/>
<line x1="910.61" y1="261.61" x2="887.27" y2="238.27" stroke="#fff" stroke-width="2.15" stroke-linecap="round"/>
<line x1="988.39" y1="261.61" x2="1011.73" y2="238.27" stroke="#111" stroke-width="4.65" stroke-linecap="round"/>
<line x1="988.39" y1="261.61" x2="1011.73" y2="238.27" stroke="#fff" stroke-width="2.15" stroke-linecap="round"/>
<circle cx="949.5" cy="300.5" r="104" stroke="#111" stroke-width="2.2" fill="none"/>
<circle cx="949.5" cy="300.5" r="99.3" stroke="#111" stroke-width="1.1" fill="none"/>
<line x1="843.5" y1="300.5" x2="878.5" y2="300.5" stroke="#111" stroke-width="3.45" />
<line x1="1020.5" y1="300.5" x2="1055.5" y2="300.5" stroke="#111" stroke-width="3.45" />
<path d="M940,202 V252 Q940,256.5 944,256.5 H955 Q959,256.5 959,252 V202" fill="#fff" stroke="#111" stroke-width="1.5"/>
<circle cx="949.5" cy="300.5" r="43" stroke="#111" stroke-width="1.5" fill="#fff"/>
<path d="M909,293 H901.5 Q899.5,293 899.5,295 V306 Q899.5,308 901.5,308 H909" stroke="#111" stroke-width="1.65" fill="#fff" />
<path d="M990,293 H997.5 Q999.5,293 999.5,295 V306 Q999.5,308 997.5,308 H990" stroke="#111" stroke-width="1.65" fill="#fff" />
<line x1="900" y1="300.5" x2="927" y2="300.5" stroke="#111" stroke-width="1.45" />
<line x1="972" y1="300.5" x2="999" y2="300.5" stroke="#111" stroke-width="1.45" />
<circle cx="949.5" cy="300.5" r="17.4" stroke="#111" stroke-width="1.5" fill="#fff"/>
<circle cx="949.5" cy="300.5" r="15.2" stroke="#111" stroke-width="1.2" fill="none"/>
<rect x="934.5" y="297.5" width="4" height="7" rx="0" stroke="#111" stroke-width="1.0" fill="none"/>
<line x1="938" y1="300.5" x2="949.5" y2="300.5" stroke="#111" stroke-width="1.45" />
<g transform="translate(872.43,223.43) rotate(225)"><rect x="-11" y="-11" width="22" height="22" fill="#fff" stroke="#111" stroke-width="1.4"/><circle cx="0" cy="0" r="4.2" fill="none" stroke="#111" stroke-width="1.2"/></g>
<g transform="translate(872.43,377.57) rotate(135)"><rect x="-11" y="-11" width="22" height="22" fill="#fff" stroke="#111" stroke-width="1.4"/><circle cx="0" cy="0" r="4.2" fill="none" stroke="#111" stroke-width="1.2"/></g>
<g transform="translate(1026.57,377.57) rotate(45)"><rect x="-11" y="-11" width="22" height="22" fill="#fff" stroke="#111" stroke-width="1.4"/><circle cx="0" cy="0" r="4.2" fill="none" stroke="#111" stroke-width="1.2"/></g>
<path d="M862,210 L855.6,187 A17,17 0 1 1 889.3,188.5 L888,194" stroke="#111" stroke-width="1.85" fill="#fff" />
<circle cx="872.5" cy="182.5" r="11.2" stroke="#111" stroke-width="1.3" fill="none"/>
<path d="M1020,228.5 L1011,186 A15.8,15.8 0 1 1 1042.2,186 L1033.2,228.5 A7,7 0 0 1 1020,228.5 Z" stroke="#111" stroke-width="1.85" fill="#fff" />
<circle cx="1026.6" cy="181" r="11" stroke="#111" stroke-width="1.3" fill="none"/>
<circle cx="1026.6" cy="223.8" r="3.6" stroke="#111" stroke-width="1.3" fill="none"/>
<rect x="830" y="403" width="82" height="30" fill="#fff"/><rect x="988" y="403" width="82" height="30" fill="#fff"/><rect x="912" y="410.5" width="76" height="22" fill="#fff"/>
<rect x="844" y="403" width="68" height="15" rx="3" stroke="#111" stroke-width="1.2" fill="#fff"/>
<rect x="988" y="403" width="68" height="15" rx="3" stroke="#111" stroke-width="1.2" fill="#fff"/>
<line x1="912" y1="410.5" x2="988" y2="410.5" stroke="#111" stroke-width="1.45" />
<line x1="912" y1="412.5" x2="988" y2="412.5" stroke="#111" stroke-width="1.45" />
<path d="M854.8,395 V425" stroke="#111" stroke-width="1.45" fill="none" stroke-dasharray="6,3,2,3"/>
<path d="M1044,395 V425" stroke="#111" stroke-width="1.45" fill="none" stroke-dasharray="6,3,2,3"/>
<rect x="822.5" y="277.7" width="22.5" height="46" rx="0" stroke="#111" stroke-width="1.0" fill="#fff"/>
<line x1="824.5" y1="277.7" x2="824.5" y2="293" stroke="#111" stroke-width="1.45" />
<rect x="762" y="264" width="60.4" height="84.4" rx="7" stroke="#111" stroke-width="1.1" fill="#fff"/>
<line x1="762" y1="300.5" x2="822" y2="300.5" stroke="#111" stroke-width="1.45" />
<line x1="790.5" y1="264" x2="790.5" y2="300.7" stroke="#111" stroke-width="1.45" />
<path d="M790.5,300.7 V352" stroke="#111" stroke-width="1.45" fill="none" stroke-dasharray="16,4,3,4"/>
<line x1="768.3" y1="353" x2="816" y2="258.7" stroke="#111" stroke-width="4.65" />
<path d="M949.5,176 V430" stroke="#111" stroke-width="1.45" fill="none" stroke-dasharray="40,4,4,4"/>
<line x1="826" y1="300.5" x2="1079.5" y2="300.5" stroke="#111" stroke-width="1.45" />
<text x="651.5" y="764.5" font-size="23.7" text-anchor="middle" fill="#111" stroke="#111" stroke-width="0.3">ALL DIMENSIONS ARE IN INCHES AND MILLIMETERS</text>
<line x1="125" y1="821.2" x2="1182.5" y2="821.2" stroke="#111" stroke-width="1.4000000000000001"/>
<line x1="159.3" y1="849.5" x2="1182.5" y2="849.5" stroke="#111" stroke-width="1.4000000000000001"/>
<line x1="203.5" y1="777" x2="203.5" y2="877" stroke="#111" stroke-width="1.4000000000000001"/>
<line x1="325.875" y1="777" x2="325.875" y2="877" stroke="#111" stroke-width="1.4000000000000001"/>
<line x1="448.25" y1="777" x2="448.25" y2="877" stroke="#111" stroke-width="1.4000000000000001"/>
<line x1="570.625" y1="777" x2="570.625" y2="877" stroke="#111" stroke-width="1.4000000000000001"/>
<line x1="693.0" y1="777" x2="693.0" y2="877" stroke="#111" stroke-width="1.4000000000000001"/>
<line x1="815.375" y1="777" x2="815.375" y2="877" stroke="#111" stroke-width="1.4000000000000001"/>
<line x1="937.75" y1="777" x2="937.75" y2="877" stroke="#111" stroke-width="1.4000000000000001"/>
<line x1="1060.125" y1="777" x2="1060.125" y2="877" stroke="#111" stroke-width="1.4000000000000001"/>
<line x1="159.3" y1="821.2" x2="159.3" y2="877" stroke="#111" stroke-width="1.4000000000000001"/>
<rect x="125" y="777" width="1057.5" height="100" fill="none" stroke="#111" stroke-width="2.2"/>
<text x="181.5" y="842.7" font-size="22.8" text-anchor="middle" fill="#111" stroke="#111" stroke-width="0.25" >IN</text>
<text x="181.5" y="871.0" font-size="22.8" text-anchor="middle" fill="#111" stroke="#111" stroke-width="0.25" >MM</text>
<text x="264.6875" y="807.5" font-size="24" text-anchor="middle" fill="#111" stroke="#111" stroke-width="0.25" >A</text>
<text x="387.0625" y="797" font-size="22" text-anchor="middle" fill="#111" stroke="#111" stroke-width="0.25" >D</text>
<text x="387.0625" y="818" font-size="19.5" text-anchor="middle" fill="#111" stroke="#111" stroke-width="0.25" >-.06</text>
<text x="509.4375" y="807.5" font-size="24" text-anchor="middle" fill="#111" stroke="#111" stroke-width="0.25" >E</text>
<text x="631.8125" y="797" font-size="22" text-anchor="middle" fill="#111" stroke="#111" stroke-width="0.25" >2E</text>
<text x="631.8125" y="818" font-size="19.5" text-anchor="middle" fill="#111" stroke="#111" stroke-width="0.25" >±.03</text>
<text x="754.1875" y="807.5" font-size="24" text-anchor="middle" fill="#111" stroke="#111" stroke-width="0.25" >G</text>
<text x="876.5625" y="797" font-size="22" text-anchor="middle" fill="#111" stroke="#111" stroke-width="0.25" >H</text>
<text x="876.5625" y="818" font-size="19.5" text-anchor="middle" fill="#111" stroke="#111" stroke-width="0.25" >+.05</text>
<text x="998.9375" y="807.5" font-size="24" text-anchor="middle" fill="#111" stroke="#111" stroke-width="0.25" >J</text>
<text x="1121.3125" y="807.5" font-size="24" text-anchor="middle" fill="#111" stroke="#111" stroke-width="0.25" >K</text>
<text x="264.6875" y="841.7" font-size="16.5" text-anchor="middle" fill="#111" stroke="#111" stroke-width="0.15" >9.50</text>
<text x="387.0625" y="841.7" font-size="16.5" text-anchor="middle" fill="#111" stroke="#111" stroke-width="0.15" >5.25</text>
<text x="509.4375" y="841.7" font-size="16.5" text-anchor="middle" fill="#111" stroke="#111" stroke-width="0.15" >4.25</text>
<text x="631.8125" y="841.7" font-size="16.5" text-anchor="middle" fill="#111" stroke="#111" stroke-width="0.15" >8.50</text>
<text x="754.1875" y="841.7" font-size="16.5" text-anchor="middle" fill="#111" stroke="#111" stroke-width="0.15" >.63</text>
<text x="876.5625" y="841.7" font-size="16.5" text-anchor="middle" fill="#111" stroke="#111" stroke-width="0.15" >.41</text>
<text x="998.9375" y="841.7" font-size="16.5" text-anchor="middle" fill="#111" stroke="#111" stroke-width="0.15" >1.16</text>
<text x="1121.3125" y="841.7" font-size="16.5" text-anchor="middle" fill="#111" stroke="#111" stroke-width="0.15" >1.56</text>
<text x="264.6875" y="869.5" font-size="16.5" text-anchor="middle" fill="#111" stroke="#111" stroke-width="0.15" >241</text>
<text x="387.0625" y="869.5" font-size="16.5" text-anchor="middle" fill="#111" stroke="#111" stroke-width="0.15" >133</text>
<text x="509.4375" y="869.5" font-size="16.5" text-anchor="middle" fill="#111" stroke="#111" stroke-width="0.15" >108</text>
<text x="631.8125" y="869.5" font-size="16.5" text-anchor="middle" fill="#111" stroke="#111" stroke-width="0.15" >216</text>
<text x="754.1875" y="869.5" font-size="16.5" text-anchor="middle" fill="#111" stroke="#111" stroke-width="0.15" >16</text>
<text x="876.5625" y="869.5" font-size="16.5" text-anchor="middle" fill="#111" stroke="#111" stroke-width="0.15" >10</text>
<text x="998.9375" y="869.5" font-size="16.5" text-anchor="middle" fill="#111" stroke="#111" stroke-width="0.15" >29</text>
<text x="1121.3125" y="869.5" font-size="16.5" text-anchor="middle" fill="#111" stroke="#111" stroke-width="0.15" >40</text>
<line x1="125" y1="932.2" x2="1182.5" y2="932.2" stroke="#111" stroke-width="1.4000000000000001"/>
<line x1="159.3" y1="960.5" x2="1060.125" y2="960.5" stroke="#111" stroke-width="1.4000000000000001"/>
<line x1="203.5" y1="888" x2="203.5" y2="988" stroke="#111" stroke-width="1.4000000000000001"/>
<line x1="325.875" y1="888" x2="325.875" y2="988" stroke="#111" stroke-width="1.4000000000000001"/>
<line x1="448.25" y1="888" x2="448.25" y2="988" stroke="#111" stroke-width="1.4000000000000001"/>
<line x1="570.625" y1="888" x2="570.625" y2="988" stroke="#111" stroke-width="1.4000000000000001"/>
<line x1="693.0" y1="888" x2="693.0" y2="988" stroke="#111" stroke-width="1.4000000000000001"/>
<line x1="815.375" y1="888" x2="815.375" y2="988" stroke="#111" stroke-width="1.4000000000000001"/>
<line x1="937.75" y1="888" x2="937.75" y2="988" stroke="#111" stroke-width="1.4000000000000001"/>
<line x1="1060.125" y1="888" x2="1060.125" y2="988" stroke="#111" stroke-width="1.4000000000000001"/>
<line x1="159.3" y1="932.2" x2="159.3" y2="988" stroke="#111" stroke-width="1.4000000000000001"/>
<rect x="125" y="888" width="1057.5" height="100" fill="none" stroke="#111" stroke-width="2.2"/>
<text x="181.5" y="953.7" font-size="22.8" text-anchor="middle" fill="#111" stroke="#111" stroke-width="0.25" >IN</text>
<text x="181.5" y="982.0" font-size="22.8" text-anchor="middle" fill="#111" stroke="#111" stroke-width="0.25" >MM</text>
<text x="264.6875" y="918.5" font-size="24" text-anchor="middle" fill="#111" stroke="#111" stroke-width="0.25" >N</text>
<text x="387.0625" y="918.5" font-size="24" text-anchor="middle" fill="#111" stroke="#111" stroke-width="0.25" >O</text>
<text x="509.4375" y="918.5" font-size="24" text-anchor="middle" fill="#111" stroke="#111" stroke-width="0.25" >P</text>
<text x="631.8125" y="918.5" font-size="24" text-anchor="middle" fill="#111" stroke="#111" stroke-width="0.25" >T</text>
<text x="754.1875" y="908" font-size="22" text-anchor="middle" fill="#111" stroke="#111" stroke-width="0.25" >U</text>
<text x="754.1875" y="929" font-size="19.5" text-anchor="middle" fill="#111" stroke="#111" stroke-width="0.25" >-.0005</text>
<text x="876.5625" y="908" font-size="22" text-anchor="middle" fill="#111" stroke="#111" stroke-width="0.25" >V</text>
<text x="876.5625" y="929" font-size="19.5" text-anchor="middle" fill="#111" stroke="#111" stroke-width="0.25" >MIN</text>
<text x="998.9375" y="918.5" font-size="24" text-anchor="middle" fill="#111" stroke="#111" stroke-width="0.25" >W</text>
<text x="1121.3125" y="918.5" font-size="24" text-anchor="middle" fill="#111" stroke="#111" stroke-width="0.25" >AA</text>
<text x="264.6875" y="952.7" font-size="16.5" text-anchor="middle" fill="#111" stroke="#111" stroke-width="0.15" >3.50</text>
<text x="387.0625" y="952.7" font-size="16.5" text-anchor="middle" fill="#111" stroke="#111" stroke-width="0.15" >10.88</text>
<text x="509.4375" y="952.7" font-size="16.5" text-anchor="middle" fill="#111" stroke="#111" stroke-width="0.15" >11.25</text>
<text x="631.8125" y="952.7" font-size="16.5" text-anchor="middle" fill="#111" stroke="#111" stroke-width="0.15" >.41</text>
<text x="754.1875" y="952.7" font-size="16.5" text-anchor="middle" fill="#111" stroke="#111" stroke-width="0.15" >1.3750</text>
<text x="876.5625" y="952.7" font-size="16.5" text-anchor="middle" fill="#111" stroke="#111" stroke-width="0.15" >3.13</text>
<text x="998.9375" y="952.7" font-size="16.5" text-anchor="middle" fill="#111" stroke="#111" stroke-width="0.15" >.13</text>
<text x="264.6875" y="980.5" font-size="16.5" text-anchor="middle" fill="#111" stroke="#111" stroke-width="0.15" >89</text>
<text x="387.0625" y="980.5" font-size="16.5" text-anchor="middle" fill="#111" stroke="#111" stroke-width="0.15" >276</text>
<text x="509.4375" y="980.5" font-size="16.5" text-anchor="middle" fill="#111" stroke="#111" stroke-width="0.15" >286</text>
<text x="631.8125" y="980.5" font-size="16.5" text-anchor="middle" fill="#111" stroke="#111" stroke-width="0.15" >10</text>
<text x="754.1875" y="980.5" font-size="16.5" text-anchor="middle" fill="#111" stroke="#111" stroke-width="0.15" >34.925</text>
<text x="876.5625" y="980.5" font-size="16.5" text-anchor="middle" fill="#111" stroke="#111" stroke-width="0.15" >80</text>
<text x="998.9375" y="980.5" font-size="16.5" text-anchor="middle" fill="#111" stroke="#111" stroke-width="0.15" >3</text>
<text x="1121.3125" y="965.7" font-size="16.5" text-anchor="middle" fill="#111" stroke="#111" stroke-width="0.15" >1.00</text>
<text x="554" y="908" font-size="21" text-anchor="middle" fill="#111" stroke="#111" stroke-width="0.25" >2</text>
<line x1="125" y1="1044.2" x2="1060.125" y2="1044.2" stroke="#111" stroke-width="1.4000000000000001"/>
<line x1="159.3" y1="1072.5" x2="1060.125" y2="1072.5" stroke="#111" stroke-width="1.4000000000000001"/>
<line x1="203.5" y1="1000" x2="203.5" y2="1100" stroke="#111" stroke-width="1.4000000000000001"/>
<line x1="325.875" y1="1000" x2="325.875" y2="1100" stroke="#111" stroke-width="1.4000000000000001"/>
<line x1="448.25" y1="1000" x2="448.25" y2="1100" stroke="#111" stroke-width="1.4000000000000001"/>
<line x1="570.625" y1="1000" x2="570.625" y2="1100" stroke="#111" stroke-width="1.4000000000000001"/>
<line x1="693.0" y1="1000" x2="693.0" y2="1100" stroke="#111" stroke-width="1.4000000000000001"/>
<line x1="815.375" y1="1000" x2="815.375" y2="1100" stroke="#111" stroke-width="1.4000000000000001"/>
<line x1="937.75" y1="1000" x2="937.75" y2="1100" stroke="#111" stroke-width="1.4000000000000001"/>
<line x1="159.3" y1="1044.2" x2="159.3" y2="1100" stroke="#111" stroke-width="1.4000000000000001"/>
<rect x="125" y="1000" width="935.125" height="100" fill="none" stroke="#111" stroke-width="2.2"/>
<text x="181.5" y="1065.7" font-size="22.8" text-anchor="middle" fill="#111" stroke="#111" stroke-width="0.25" >IN</text>
<text x="181.5" y="1094.0" font-size="22.8" text-anchor="middle" fill="#111" stroke="#111" stroke-width="0.25" >MM</text>
<text x="264.6875" y="1030.5" font-size="24" text-anchor="middle" fill="#111" stroke="#111" stroke-width="0.25" >AB</text>
<text x="387.0625" y="1030.5" font-size="24" text-anchor="middle" fill="#111" stroke="#111" stroke-width="0.25" >AC</text>
<text x="509.4375" y="1030.5" font-size="24" text-anchor="middle" fill="#111" stroke="#111" stroke-width="0.25" >AF</text>
<text x="631.8125" y="1030.5" font-size="24" text-anchor="middle" fill="#111" stroke="#111" stroke-width="0.25" >BA</text>
<text x="754.1875" y="1020" font-size="22" text-anchor="middle" fill="#111" stroke="#111" stroke-width="0.25" >ES</text>
<text x="754.1875" y="1041" font-size="19.5" text-anchor="middle" fill="#111" stroke="#111" stroke-width="0.25" >MIN</text>
<text x="876.5625" y="1030.5" font-size="24" text-anchor="middle" fill="#111" stroke="#111" stroke-width="0.25" >EV</text>
<text x="998.9375" y="1020" font-size="22" text-anchor="middle" fill="#111" stroke="#111" stroke-width="0.25" >SQ</text>
<text x="998.9375" y="1041" font-size="19.5" text-anchor="middle" fill="#111" stroke="#111" stroke-width="0.25" >KEY</text>
<text x="264.6875" y="1064.7" font-size="16.5" text-anchor="middle" fill="#111" stroke="#111" stroke-width="0.15" >8.44</text>
<text x="387.0625" y="1064.7" font-size="16.5" text-anchor="middle" fill="#111" stroke="#111" stroke-width="0.15" >7.19</text>
<text x="509.4375" y="1064.7" font-size="16.5" text-anchor="middle" fill="#111" stroke="#111" stroke-width="0.15" >2.13</text>
<text x="631.8125" y="1064.7" font-size="16.5" text-anchor="middle" fill="#111" stroke="#111" stroke-width="0.15" >3.50</text>
<text x="754.1875" y="1064.7" font-size="16.5" text-anchor="middle" fill="#111" stroke="#111" stroke-width="0.15" >2.41</text>
<text x="876.5625" y="1064.7" font-size="16.5" text-anchor="middle" fill="#111" stroke="#111" stroke-width="0.15" >.94</text>
<text x="998.9375" y="1064.7" font-size="16.5" text-anchor="middle" fill="#111" stroke="#111" stroke-width="0.15" >.313</text>
<text x="264.6875" y="1092.5" font-size="16.5" text-anchor="middle" fill="#111" stroke="#111" stroke-width="0.15" >214</text>
<text x="387.0625" y="1092.5" font-size="16.5" text-anchor="middle" fill="#111" stroke="#111" stroke-width="0.15" >183</text>
<text x="509.4375" y="1092.5" font-size="16.5" text-anchor="middle" fill="#111" stroke="#111" stroke-width="0.15" >54</text>
<text x="631.8125" y="1092.5" font-size="16.5" text-anchor="middle" fill="#111" stroke="#111" stroke-width="0.15" >89</text>
<text x="754.1875" y="1092.5" font-size="16.5" text-anchor="middle" fill="#111" stroke="#111" stroke-width="0.15" >61</text>
<text x="876.5625" y="1092.5" font-size="16.5" text-anchor="middle" fill="#111" stroke="#111" stroke-width="0.15" >24</text>
<text x="998.9375" y="1092.5" font-size="16.5" text-anchor="middle" fill="#111" stroke="#111" stroke-width="0.15" >7.95</text>
<rect x="125" y="1111.3" width="690.375" height="200" fill="none" stroke="#111" stroke-width="2.2"/>
<line x1="125" y1="1155.5" x2="815.375" y2="1155.5" stroke="#111" stroke-width="1.4000000000000001"/>
<line x1="159.3" y1="1183.8" x2="203.5" y2="1183.8" stroke="#111" stroke-width="1.4000000000000001"/>
<line x1="325.875" y1="1183.8" x2="815.375" y2="1183.8" stroke="#111" stroke-width="1.4000000000000001"/>
<line x1="125" y1="1211.3" x2="815.375" y2="1211.3" stroke="#111" stroke-width="1.4000000000000001"/>
<line x1="159.3" y1="1239.8" x2="203.5" y2="1239.8" stroke="#111" stroke-width="1.4000000000000001"/>
<line x1="325.875" y1="1239.8" x2="815.375" y2="1239.8" stroke="#111" stroke-width="1.4000000000000001"/>
<line x1="203.5" y1="1111.3" x2="203.5" y2="1231" stroke="#111" stroke-width="1.4000000000000001"/>
<line x1="325.875" y1="1111.3" x2="325.875" y2="1231" stroke="#111" stroke-width="1.4000000000000001"/>
<line x1="448.25" y1="1111.3" x2="448.25" y2="1231" stroke="#111" stroke-width="1.4000000000000001"/>
<line x1="570.625" y1="1111.3" x2="570.625" y2="1231" stroke="#111" stroke-width="1.4000000000000001"/>
<line x1="693.0" y1="1111.3" x2="693.0" y2="1231" stroke="#111" stroke-width="1.4000000000000001"/>
<line x1="159.3" y1="1155.5" x2="159.3" y2="1231" stroke="#111" stroke-width="1.4000000000000001"/>
<text x="181.5" y="1177.0" font-size="22.8" text-anchor="middle" fill="#111" stroke="#111" stroke-width="0.25" >IN</text>
<text x="181.5" y="1205.3" font-size="22.8" text-anchor="middle" fill="#111" stroke="#111" stroke-width="0.25" >MM</text>
<text x="181.5" y="1232.8" font-size="21.5" text-anchor="middle" fill="#111" stroke="#111" stroke-width="0.25" >IN</text>
<text x="264.6875" y="1141.8" font-size="24" text-anchor="middle" fill="#111" stroke="#111" stroke-width="0.25" >FRAME</text>
<text x="387.0625" y="1141.8" font-size="24" text-anchor="middle" fill="#111" stroke="#111" stroke-width="0.25" >B</text>
<text x="509.4375" y="1141.8" font-size="24" text-anchor="middle" fill="#111" stroke="#111" stroke-width="0.25" >C</text>
<text x="631.8125" y="1131.3" font-size="22" text-anchor="middle" fill="#111" stroke="#111" stroke-width="0.25" >2F</text>
<text x="631.8125" y="1152.3" font-size="19.5" text-anchor="middle" fill="#111" stroke="#111" stroke-width="0.25" >±.03</text>
<text x="754.1875" y="1141.8" font-size="24" text-anchor="middle" fill="#111" stroke="#111" stroke-width="0.25" >BS</text>
<text x="264.6875" y="1190.5" font-size="16.5" text-anchor="middle" fill="#111" stroke="#111" stroke-width="0.15" >213T</text>
<text x="387.0625" y="1176.0" font-size="16.5" text-anchor="middle" fill="#111" stroke="#111" stroke-width="0.15" >7.38</text>
<text x="509.4375" y="1176.0" font-size="16.5" text-anchor="middle" fill="#111" stroke="#111" stroke-width="0.15" >18.63</text>
<text x="631.8125" y="1176.0" font-size="16.5" text-anchor="middle" fill="#111" stroke="#111" stroke-width="0.15" >5.50</text>
<text x="754.1875" y="1176.0" font-size="16.5" text-anchor="middle" fill="#111" stroke="#111" stroke-width="0.15" >6.16</text>
<text x="387.0625" y="1203.8" font-size="16.5" text-anchor="middle" fill="#111" stroke="#111" stroke-width="0.15" >187</text>
<text x="509.4375" y="1203.8" font-size="16.5" text-anchor="middle" fill="#111" stroke="#111" stroke-width="0.15" >473</text>
<text x="631.8125" y="1203.8" font-size="16.5" text-anchor="middle" fill="#111" stroke="#111" stroke-width="0.15" >140</text>
<text x="754.1875" y="1203.8" font-size="16.5" text-anchor="middle" fill="#111" stroke="#111" stroke-width="0.15" >156</text>
<text x="387.0625" y="1231.8" font-size="16.5" text-anchor="middle" fill="#111" stroke="#111" stroke-width="0.15" >8.84</text>
<text x="509.4375" y="1231.8" font-size="16.5" text-anchor="middle" fill="#111" stroke="#111" stroke-width="0.15" >20.13</text>
<text x="631.8125" y="1231.8" font-size="16.5" text-anchor="middle" fill="#111" stroke="#111" stroke-width="0.15" >7.00</text>
<text x="754.1875" y="1231.8" font-size="16.5" text-anchor="middle" fill="#111" stroke="#111" stroke-width="0.15" >7.66</text>
</svg>
</body></html>
